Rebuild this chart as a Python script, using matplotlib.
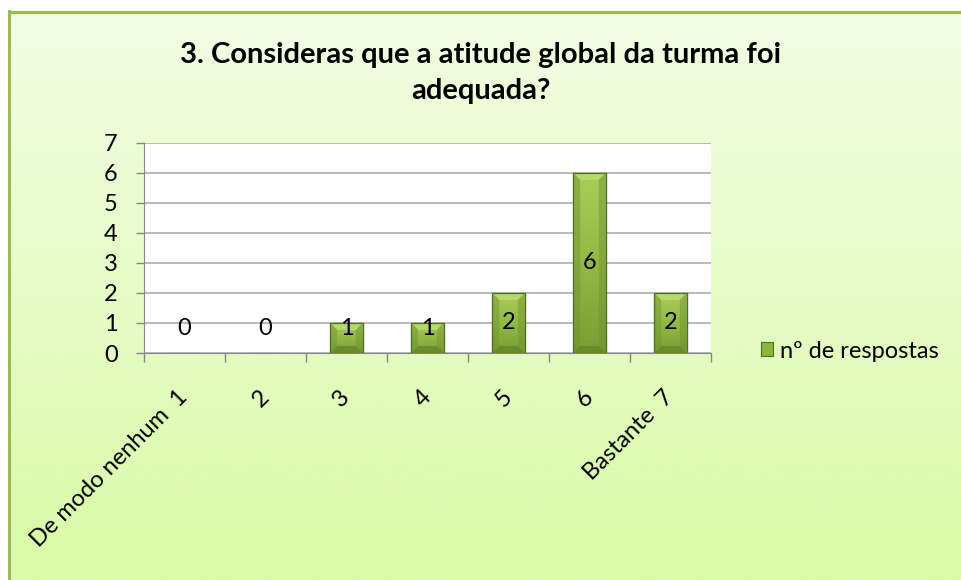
import matplotlib.pyplot as plt
import numpy as np
from matplotlib.colors import LinearSegmentedColormap
from matplotlib.lines import Line2D
from matplotlib.patches import Rectangle, Polygon

# data
categories = ["De modo nenhum  1", "2", "3", "4", "5", "6", "Bastante  7"]
respostas = [0, 0, 1, 1, 2, 6, 2]
title = "3. Consideras que a atitude global da turma foi\nadequada?"
legend_label = "nº de respostas"

plt.rcParams['font.family'] = ['Lato', 'DejaVu Sans']

W, H = 962, 580
fig = plt.figure(figsize=(W / 100, H / 100), dpi=100)
fig.patch.set_facecolor("white")

# green gradient background panel
bg = fig.add_axes([8 / W, 0, 1 - 8 / W, 1 - 10 / H])
bg_cmap = LinearSegmentedColormap.from_list("bg", ["#f3fde4", "#e6fbc6", "#d9fba6"])
bg.imshow(np.linspace(0, 1, 256).reshape(-1, 1), aspect="auto", cmap=bg_cmap,
          extent=[0, 1, 0, 1], origin="upper")
bg.set_xlim(0, 1)
bg.set_ylim(0, 1)
bg.axis("off")
bg.add_line(Line2D([0.0015, 0.0015], [0, 1], color="#9bbb59", lw=2.2))
bg.add_line(Line2D([0, 1], [0.997, 0.997], color="#9bbb59", lw=2.2))

# plot area
ax = fig.add_axes([144 / W, 1 - 353 / H, (711 - 144) / W, (353 - 142.7) / H])
ax.set_facecolor("white")
x = np.arange(len(categories))
bar_w = 0.4
bars = ax.bar(x, respostas, width=bar_w, color="#8db43e", edgecolor="#51701f",
              linewidth=0.8, zorder=3)

grad = LinearSegmentedColormap.from_list("bar", ["#a9cd59", "#93b944", "#7a9e33"])
dx = 0.085          # bevel width (x units)
dy = 7 / 30.04      # bevel height (y units, ~7px)
for b, v in zip(bars, respostas):
    if v <= 0:
        continue
    x0, w = b.get_x(), b.get_width()
    im = ax.imshow(np.linspace(0, 1, 64).reshape(-1, 1), aspect="auto", cmap=grad,
                   extent=[x0, x0 + w, 0, v], origin="upper", zorder=3.5)
    im.set_clip_path(b)
    top = Polygon([[x0, v], [x0 + w, v], [x0 + w - dx, v - dy], [x0 + dx, v - dy]],
                  closed=True, facecolor="#bcdc73", edgecolor="none", alpha=0.85, zorder=3.6)
    ax.add_patch(top)
    bot = Polygon([[x0, 0], [x0 + w, 0], [x0 + w - dx, dy], [x0 + dx, dy]],
                  closed=True, facecolor="#66862a", edgecolor="none", alpha=0.8, zorder=3.6)
    ax.add_patch(bot)
    side_l = Polygon([[x0, 0], [x0 + dx, dy], [x0 + dx, v - dy], [x0, v]],
                     closed=True, facecolor="#6f9130", edgecolor="none", alpha=0.45, zorder=3.6)
    ax.add_patch(side_l)
    side_r = Polygon([[x0 + w, 0], [x0 + w - dx, dy], [x0 + w - dx, v - dy], [x0 + w, v]],
                     closed=True, facecolor="#6f9130", edgecolor="none", alpha=0.45, zorder=3.6)
    ax.add_patch(side_r)
    edge = Rectangle((x0, 0), w, v, facecolor="none", edgecolor="#51701f", lw=0.9, zorder=3.8)
    ax.add_patch(edge)

# data labels
for xi, v in zip(x, respostas):
    ax.text(xi, max(v / 2, 0.83), str(v), ha="center", va="center", fontsize=17,
            color="black", zorder=5)

ax.set_xlim(-0.5, len(categories) - 0.5)
ax.set_ylim(0, 7)
ax.set_yticks(range(0, 8))
ax.yaxis.grid(True, color="#a6a6a6", lw=1.1, zorder=0)
ax.set_axisbelow(True)
for s in ["top", "right"]:
    ax.spines[s].set_visible(False)
ax.spines["left"].set_color("#868686")
ax.spines["bottom"].set_color("#868686")
ax.tick_params(axis="y", length=6, width=1, color="#868686", pad=13, labelsize=17)
ax.set_xticks(np.arange(len(categories) + 1) - 0.5, minor=True)
ax.set_xticks(x)
ax.tick_params(axis="x", which="minor", length=6.5, width=1, color="#868686")
ax.tick_params(axis="x", which="major", length=0, pad=29)
ax.set_xticklabels(categories, rotation=45, ha="right", va="center",
                   rotation_mode="anchor", fontsize=17)

fig.text(0.5, 1 - 73 / H, title, ha="center", va="center", fontsize=21,
         fontweight="bold", linespacing=1.5)

leg_handle = Rectangle((0, 0), 1, 1, facecolor="#8db43e", edgecolor="#51701f", lw=0.8)
fig.legend([leg_handle], [legend_label], loc="center left",
           bbox_to_anchor=(740 / W, 1 - 351 / H), frameon=False, fontsize=17,
           handlelength=0.5, handleheight=0.5, handletextpad=0.3)

fig.savefig("out.png", dpi=100)
